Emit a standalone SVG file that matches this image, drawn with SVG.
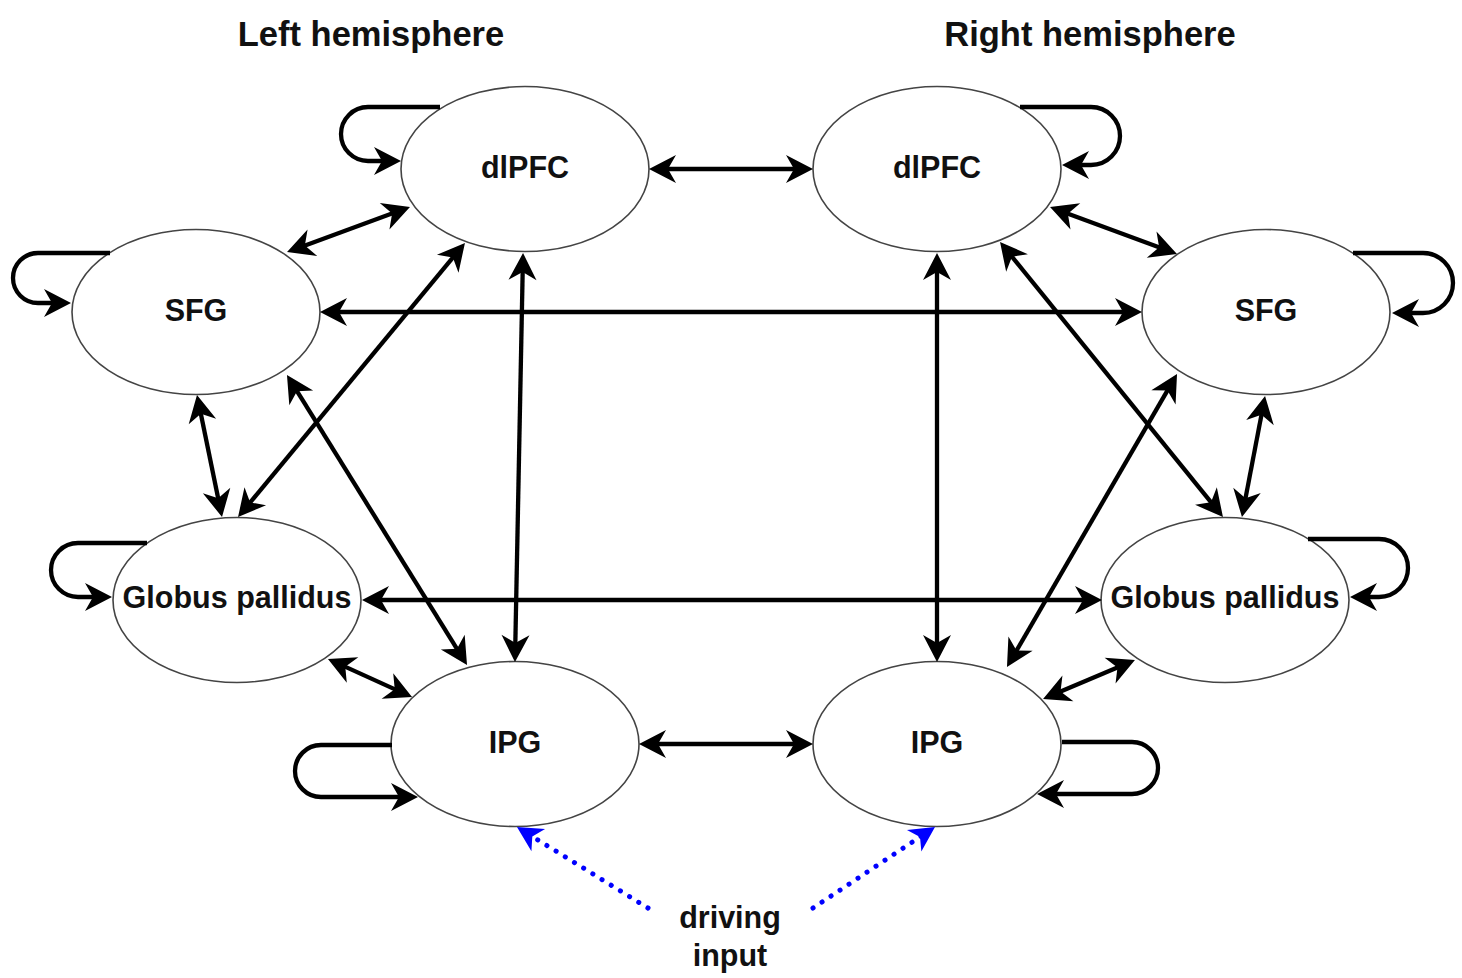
<svg xmlns="http://www.w3.org/2000/svg" width="1462" height="978" viewBox="0 0 1462 978">
<style>
.node ellipse{fill:#fff;stroke:#444;stroke-width:1.6}
.lbl{font-family:"Liberation Sans",Arial,Helvetica,sans-serif;font-weight:bold;font-size:30.5px;fill:#111;text-anchor:middle}
.title{font-family:"Liberation Sans",Arial,Helvetica,sans-serif;font-weight:bold;font-size:34.5px;fill:#111;text-anchor:middle}
.edge{fill:none;stroke:#000;stroke-width:4.3;marker-start:url(#arr);marker-end:url(#arr)}
.loop{fill:none;stroke:#000;stroke-width:4.3;marker-end:url(#arr)}
.drive{fill:none;stroke:#0000ff;stroke-width:5;stroke-linecap:round;stroke-dasharray:0.1 10.7;marker-end:url(#barr)}
</style>
<defs>
<marker id="arr" markerUnits="userSpaceOnUse" viewBox="-16 -16 32 32" markerWidth="32" markerHeight="32" refX="0" refY="0" orient="auto-start-reverse">
<path d="M12,0 L-15,-14 L-7,0 L-15,14 Z" fill="#000"/>
</marker>
<marker id="barr" markerUnits="userSpaceOnUse" viewBox="-16 -16 32 32" markerWidth="32" markerHeight="32" refX="0" refY="0" orient="auto">
<path d="M12,0 L-13,-13 L-6,0 L-13,13 Z" fill="#0000ff"/>
</marker>
</defs>
<rect width="1462" height="978" fill="#fff"/>
<text class="title" x="371" y="46">Left hemisphere</text>
<text class="title" x="1090" y="46">Right hemisphere</text>

<g id="L_dlPFC" class="node"><ellipse cx="525" cy="169" rx="124" ry="82.5"/><text class="lbl" x="525" y="178">dlPFC</text></g>
<g id="R_dlPFC" class="node"><ellipse cx="937" cy="169" rx="124" ry="82.5"/><text class="lbl" x="937" y="178">dlPFC</text></g>
<g id="L_SFG" class="node"><ellipse cx="196" cy="312" rx="124" ry="82.5"/><text class="lbl" x="196" y="321">SFG</text></g>
<g id="R_SFG" class="node"><ellipse cx="1266" cy="312" rx="124" ry="82.5"/><text class="lbl" x="1266" y="321">SFG</text></g>
<g id="L_GP" class="node"><ellipse cx="237" cy="600" rx="124" ry="82.5"/><text class="lbl" x="237" y="608">Globus pallidus</text></g>
<g id="R_GP" class="node"><ellipse cx="1225" cy="600" rx="124" ry="82.5"/><text class="lbl" x="1225" y="608">Globus pallidus</text></g>
<g id="L_IPG" class="node"><ellipse cx="515" cy="744" rx="124" ry="82.5"/><text class="lbl" x="515" y="753">IPG</text></g>
<g id="R_IPG" class="node"><ellipse cx="937" cy="744" rx="124" ry="82.5"/><text class="lbl" x="937" y="753">IPG</text></g>
<g id="driving_input"><text class="lbl" x="730" y="928">driving</text><text class="lbl" x="730" y="966">input</text></g>

<g id="connectors">
<line class="edge" x1="661" y1="169" x2="801" y2="169"/>
<line class="edge" x1="651" y1="744" x2="801" y2="744"/>
<line class="edge" x1="332" y1="312" x2="1130" y2="312"/>
<line class="edge" x1="374" y1="600" x2="1090" y2="600"/>
<line class="edge" x1="298.3" y1="247.9" x2="398.7" y2="211.1"/>
<line class="edge" x1="522.8" y1="265" x2="515.2" y2="650"/>
<line class="edge" x1="457.3" y1="252.2" x2="245.7" y2="507.8"/>
<line class="edge" x1="199.4" y1="406.8" x2="219.6" y2="505.2"/>
<line class="edge" x1="293.3" y1="385.2" x2="460.7" y2="654.8"/>
<line class="edge" x1="338.9" y1="663.9" x2="401.1" y2="692.1"/>
<line class="edge" x1="1061.3" y1="211.2" x2="1165.7" y2="249.8"/>
<line class="edge" x1="937" y1="265" x2="937" y2="650"/>
<line class="edge" x1="1007.6" y1="251.3" x2="1215.4" y2="507.7"/>
<line class="edge" x1="1262.8" y1="407.8" x2="1244.2" y2="505.2"/>
<line class="edge" x1="1171" y1="384.4" x2="1013" y2="656.6"/>
<line class="edge" x1="1054.1" y1="694.3" x2="1123.9" y2="664.7"/>
<path class="loop" d="M440,107 L368,107 A27,27 0 0 0 368,161 L389,161"/>
<path class="loop" d="M110,253 L38,253 A25,25 0 0 0 38,303 L59,303"/>
<path class="loop" d="M147,543 L78,543 A27,27 0 0 0 78,597 L100,597"/>
<path class="loop" d="M392,745 L321,745 A26,26 0 0 0 321,797 L406,797"/>
<path class="loop" d="M1020,107 L1091,107 A29,29 0 0 1 1091,165 L1074,165"/>
<path class="loop" d="M1353,253 L1423,253 A30,30 0 0 1 1423,313 L1404,313"/>
<path class="loop" d="M1308,539 L1379,539 A29,29 0 0 1 1379,597 L1362,597"/>
<path class="loop" d="M1062,742 L1132,742 A26,26 0 0 1 1132,794 L1049,794"/>
<line class="drive" x1="648" y1="908" x2="527.2" y2="833.3"/>
<line class="drive" x1="813" y1="908" x2="925" y2="833.6"/>
</g>
</svg>
